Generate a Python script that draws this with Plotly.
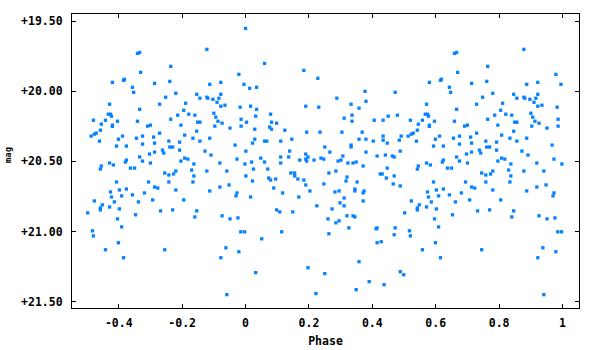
import plotly.graph_objects as go

# Phased observations (phase in [0,1)), magnitudes read from the reference
phase = [
    0.000, 0.060, 0.184, 0.228, 0.013, 0.035, 0.288, 0.016, 0.035, 0.190,
    0.231, 0.079, 0.032, 0.311, 0.003, 0.082, 0.098, 0.076, 0.082, 0.029,
    0.124, 0.193, 0.235, 0.304, 0.146, 0.029, 0.060, 0.067, 0.111, 0.022,
    0.250, 0.001, 0.139, 0.266, 0.190, 0.307, 0.048, 0.111, 0.136, 0.197,
    0.238, 0.247, 0.171, 0.190, 0.216, 0.193, 0.292, 0.301, 0.019, 0.060,
    0.111, 0.323,
    0.001, 0.025, 0.070, 0.022, 0.073, 0.079, 0.095, 0.143, 0.155, 0.155,
    0.165, 0.184, 0.190, 0.203, 0.263, 0.285, 0.320, 0.317, 0.247, 0.089,
    0.117, 0.016, 0.168, 0.282, 0.295, 0.311, 0.298, 0.311, 0.225, 0.273,
    0.098, 0.108, 0.149, 0.320, 0.260, 0.295, 0.285, 0.114, 0.051, 0.263,
    0.326, 0.032, 0.197, 0.250, 0.222,
    0.377, 0.472, 0.659, 0.666, 0.669, 0.580, 0.615, 0.618, 0.643, 0.647,
    0.333, 0.380, 0.358, 0.571, 0.666, 0.336, 0.336, 0.406, 0.434, 0.450,
    0.479, 0.520, 0.567, 0.574, 0.577, 0.558, 0.596, 0.659, 0.545, 0.580,
    0.580, 0.368, 0.542, 0.529, 0.523, 0.513, 0.491, 0.434, 0.612, 0.675,
    0.358, 0.380, 0.434, 0.485, 0.403, 0.539, 0.599, 0.656, 0.447, 0.333,
    0.333, 0.593, 0.624, 0.675, 0.380, 0.488, 0.415, 0.441, 0.463, 0.469,
    0.666, 0.624, 0.675, 0.349, 0.621, 0.571, 0.339,
    0.371, 0.447, 0.542, 0.545, 0.583, 0.637, 0.650, 0.425, 0.431, 0.469,
    0.444, 0.352, 0.466, 0.488, 0.593, 0.345, 0.345, 0.374, 0.371, 0.574,
    0.602, 0.624, 0.643, 0.609, 0.577, 0.523, 0.586, 0.662, 0.371, 0.548,
    0.542, 0.542, 0.571, 0.602, 0.502, 0.653, 0.339, 0.345, 0.596, 0.609,
    0.412, 0.415, 0.472, 0.517, 0.520, 0.469, 0.415, 0.428, 0.599, 0.558,
    0.615, 0.358, 0.488, 0.499, 0.390, 0.437, 0.349,
    0.878, 0.764, 0.979, 0.713, 0.761, 0.887, 0.922, 0.995, 0.780, 0.846,
    0.748, 0.856, 0.878, 0.881, 0.897, 0.916, 0.922, 0.910, 0.811, 0.729,
    0.922, 0.935, 0.983, 0.805, 0.821, 0.786, 0.840, 0.900, 0.906, 0.986,
    0.764, 0.913, 0.849, 0.856, 0.926, 0.691, 0.700, 0.796, 0.903, 0.986,
    0.951, 0.729, 0.846, 0.710, 0.808, 0.834, 0.887, 0.758, 0.856, 0.792,
    0.713, 0.967, 0.761, 0.770, 0.738, 0.742, 0.792, 0.872, 0.713, 0.697,
    0.891, 0.808, 0.818, 0.973, 0.796, 0.700, 0.837, 0.919, 0.998,
    0.745, 0.758, 0.773, 0.780, 0.830, 0.837, 0.878, 0.941, 0.694, 0.758,
    0.834, 0.713, 0.723, 0.780, 0.887, 0.919, 0.948, 0.973, 0.970, 0.681,
    0.707, 0.805, 0.732, 0.770, 0.846, 0.840, 0.926, 0.951, 0.976, 0.985,
    0.997, 0.745, 0.938, 0.979, 0.922, 0.941,
]
mag = [
    19.553, 19.802, 19.852, 19.908, 19.979, 19.972, 20.050, 20.107, 20.129, 20.107,
    20.114, 20.164, 20.178, 20.192, 20.221, 20.221, 20.228, 20.256, 20.271, 20.271,
    20.278, 20.292, 20.292, 20.292, 20.342, 20.342, 20.356, 20.356, 20.356, 20.370,
    20.398, 20.427, 20.427, 20.434, 20.448, 20.462, 20.477, 20.469, 20.469, 20.469,
    20.477, 20.484, 20.491, 20.484, 20.491, 20.498, 20.498, 20.491, 20.505, 20.505,
    20.512, 20.512,
    20.604, 20.555, 20.555, 20.640, 20.619, 20.633, 20.626, 20.583, 20.583, 20.604,
    20.626, 20.633, 20.668, 20.711, 20.583, 20.569, 20.612, 20.640, 20.661, 20.690,
    20.725, 20.754, 20.754, 20.718, 20.711, 20.761, 20.796, 20.817, 20.817, 20.839,
    20.846, 20.860, 20.860, 20.888, 20.910, 20.924, 20.938, 21.002, 21.052, 21.016,
    20.974, 21.293, 21.258, 21.300, 21.442,
    20.001, 20.008, 19.731, 19.724, 19.866, 19.937, 19.923, 19.915, 19.972, 20.008,
    20.093, 20.072, 20.121, 20.093, 20.129, 20.171, 20.214, 20.207, 20.207, 20.178,
    20.171, 20.207, 20.164, 20.164, 20.178, 20.207, 20.214, 20.214, 20.235, 20.242,
    20.251, 20.292, 20.278, 20.299, 20.306, 20.320, 20.320, 20.320, 20.320, 20.320,
    20.342, 20.342, 20.349, 20.349, 20.356, 20.356, 20.342, 20.335, 20.370, 20.384,
    20.398, 20.391, 20.391, 20.377, 20.434, 20.427, 20.462, 20.455, 20.462, 20.469,
    20.469, 20.491, 20.498, 20.505, 20.505, 20.512, 20.512,
    20.533, 20.548, 20.555, 20.533, 20.526, 20.548, 20.548, 20.590, 20.590, 20.604,
    20.619, 20.647, 20.661, 20.675, 20.647, 20.697, 20.711, 20.711, 20.725, 20.718,
    20.704, 20.697, 20.739, 20.746, 20.754, 20.782, 20.789, 20.789, 20.782, 20.810,
    20.832, 20.846, 20.825, 20.839, 20.867, 20.881, 20.888, 20.896, 20.910, 20.967,
    20.981, 20.974, 20.974, 20.995, 21.031, 21.023, 21.080, 21.073, 21.080, 21.130,
    21.187, 21.215, 21.286, 21.308, 21.357, 21.379, 21.414,
    19.702, 19.823, 19.880, 19.944, 19.930, 19.951, 19.937, 19.951, 20.015, 20.022,
    20.043, 20.050, 20.043, 20.050, 20.058, 20.050, 20.022, 20.079, 20.086, 20.093,
    20.107, 20.100, 20.114, 20.136, 20.164, 20.171, 20.171, 20.157, 20.185, 20.200,
    20.200, 20.214, 20.221, 20.221, 20.228, 20.249, 20.242, 20.242, 20.249, 20.249,
    20.263, 20.299, 20.285, 20.327, 20.313, 20.335, 20.335, 20.356, 20.356, 20.363,
    20.370, 20.384, 20.398, 20.398, 20.420, 20.441, 20.420, 20.427, 20.434, 20.448,
    20.455, 20.477, 20.484, 20.484, 20.498, 20.512, 20.519, 20.512, 20.519,
    20.583, 20.597, 20.590, 20.569, 20.562, 20.604, 20.569, 20.569, 20.647, 20.647,
    20.647, 20.683, 20.690, 20.704, 20.711, 20.683, 20.668, 20.725, 20.746, 20.725,
    20.775, 20.775, 20.853, 20.846, 20.853, 20.896, 20.888, 20.910, 20.903, 21.002,
    21.002, 21.130, 21.116, 21.144, 21.187, 21.450,
]

x_ticks = [-0.4, -0.2, 0, 0.2, 0.4, 0.6, 0.8, 1]
x_tick_text = ["-0.4", "-0.2", "0", "0.2", "0.4", "0.6", "0.8", "1"]
y_ticks = [19.5, 20.0, 20.5, 21.0, 21.5]
y_tick_text = ["+19.50", "+20.00", "+20.50", "+21.00", "+21.50"]

# fold: show phases >= 0.5 also one cycle earlier
xs = list(phase) + [p - 1 for p in phase if p >= 0.5]
ys = list(mag) + [m for p, m in zip(phase, mag) if p >= 0.5]

FONT = "DejaVu Sans Mono"

fig = go.Figure(go.Scatter(
    x=xs, y=ys, mode="markers",
    marker=dict(symbol="square", size=3.3, color="#0582ff", line=dict(width=0)),
    hoverinfo="skip",
))

axis_common = dict(
    showline=True, linecolor="black", linewidth=1.2, mirror="ticks",
    ticks="inside", ticklen=4, tickwidth=1.2, tickcolor="black",
    showgrid=False, zeroline=False,
    tickfont=dict(family=FONT, size=11.5, color="black", weight="bold"),
)

fig.update_layout(
    width=600, height=350,
    margin=dict(l=72, r=21, t=14, b=42),
    paper_bgcolor="white", plot_bgcolor="white",
    showlegend=False,
    xaxis=dict(
        range=[-0.5475, 1.052], tickvals=x_ticks, ticktext=x_tick_text,
        ticklabelstandoff=4,
        title=dict(text="Phase", font=dict(family=FONT, size=11.5, color="black", weight="bold"), standoff=8),
        automargin=False, **axis_common,
    ),
    yaxis=dict(
        range=[21.545, 19.45], tickvals=y_ticks, ticktext=y_tick_text,
        ticklabelstandoff=6,
        automargin=False, **axis_common,
    ),
    annotations=[dict(
        text="mag", textangle=-90, showarrow=False,
        xref="paper", yref="paper", x=0, y=0.52, xanchor="center", yanchor="middle",
        xshift=-64,
        font=dict(family=FONT, size=9, color="black", weight="bold"),
    )],
)

fig.write_html(
    "out.html",
    config={"displayModeBar": False},
    post_script="document.body.style.margin='0px';",
)
